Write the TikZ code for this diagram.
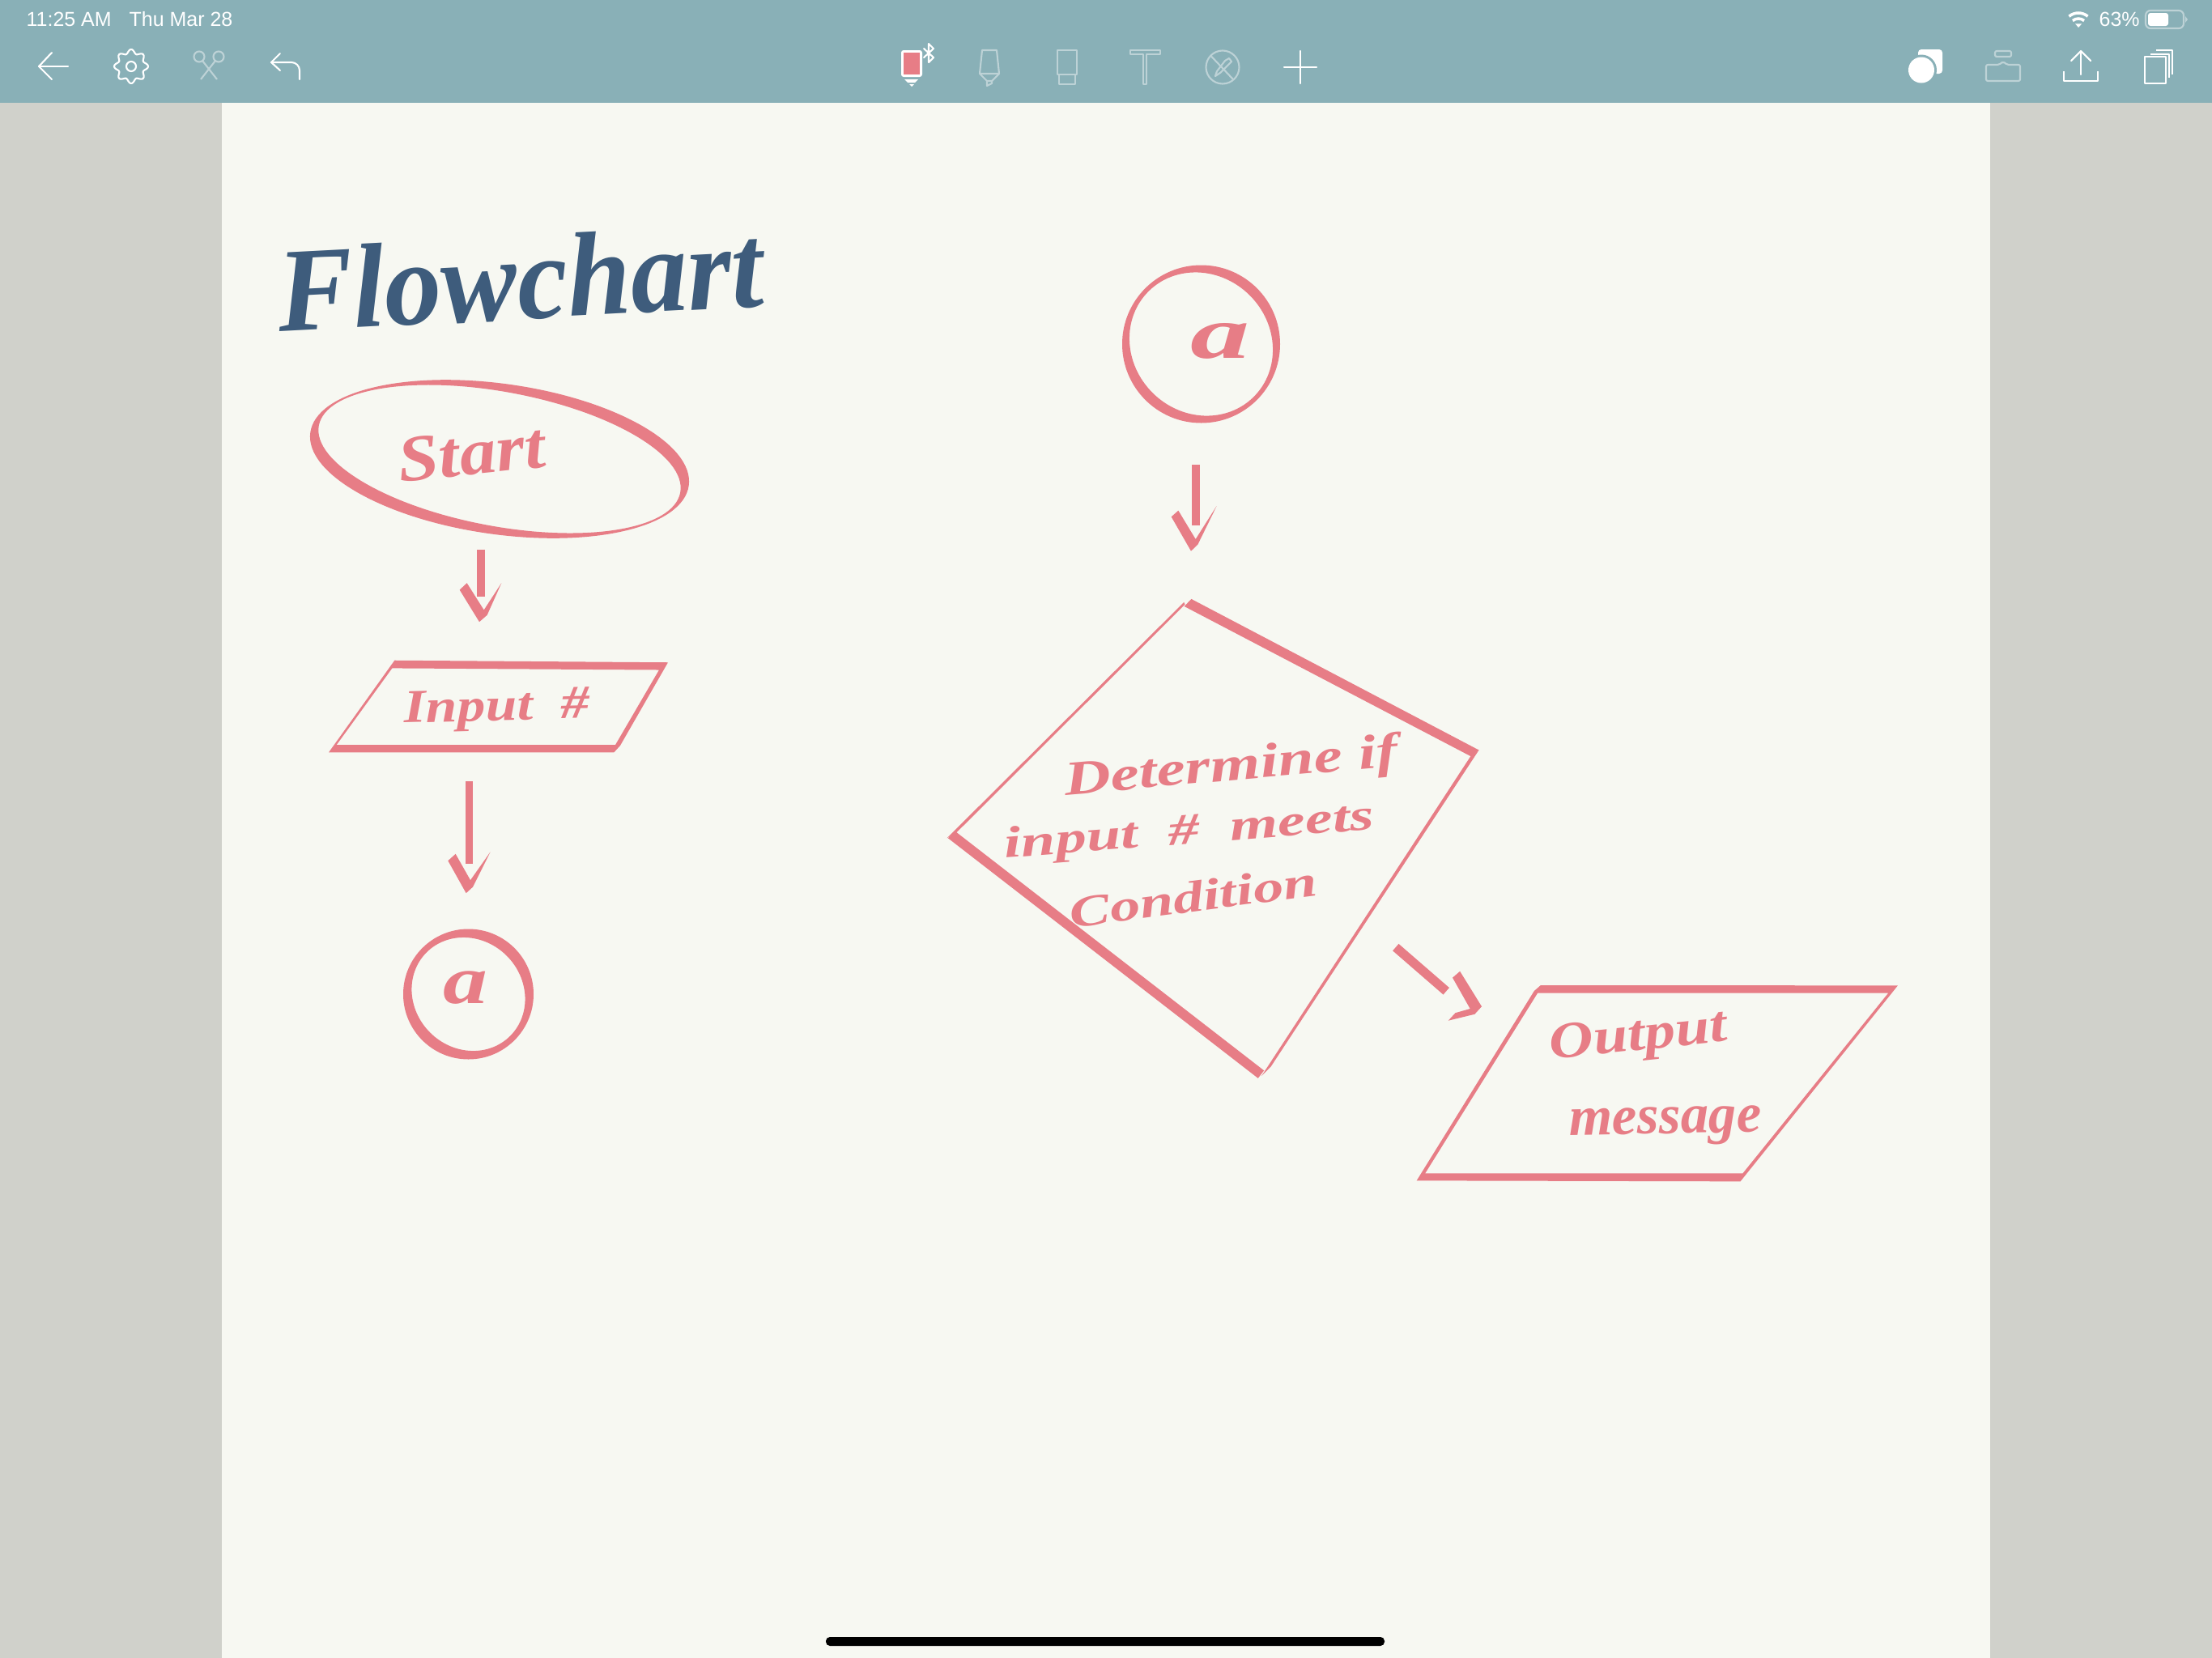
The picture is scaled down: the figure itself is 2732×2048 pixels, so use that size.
\documentclass[tikz,border=0pt]{standalone}
\usepackage{fontspec}
\setmainfont{Liberation Sans}
\newfontfamily\handfont{Liberation Serif}
\definecolor{barc}{HTML}{89B0B7}
\definecolor{sidec}{HTML}{D0D1CB}
\definecolor{pagec}{HTML}{F7F8F2}
\definecolor{pinkc}{HTML}{E77D86}
\definecolor{inkc}{HTML}{3E5C7C}
\definecolor{fadec}{HTML}{BDD2D6}
\newcommand{\hw}[1]{\handfont\bfseries\itshape\fontsize{#1}{#1}\selectfont}
\tikzset{
  statustext/.style={text=white,inner sep=0pt,anchor=base west,font=\fontsize{7.1}{8}\selectfont},
  ico/.style={draw=white,line width=0.6pt,line cap=round,line join=round},
  icof/.style={draw=fadec,line width=0.6pt,line join=round},
  label/.style={text=pinkc,inner sep=0pt,anchor=base},
  shaft/.style={draw=pinkc,line width=2.7pt},
  z5/.style={shift={(380,660)},xscale=0.33333,yscale=0.42088},
  z6/.style={shift={(1160,730)},xscale=0.43367,yscale=0.39541},
  z7/.style={shift={(1700,1140)},xscale=0.42088,yscale=0.33333},
  z8/.style={shift={(1360,310)},xscale=0.33333,yscale=0.33333},
}
\begin{document}
\begin{tikzpicture}[x=0.01cm,y=-0.01cm]
\useasboundingbox (0,0) rectangle (2732,2048);
% backgrounds
\fill[sidec] (0,0) rectangle (2732,2048);
\fill[pagec] (274,127) rectangle (2458,2048);
\fill[barc] (0,0) rectangle (2732,127);
\fill[black,rounded corners=0.05cm] (1020,2022) rectangle (1710,2033);
% status bar
\node[statustext] (clock) at (32,32) {11:25 AM};
\node[statustext] (date) at (159,32) {Thu Mar 28};
\node[statustext] (batt) at (2592,32) {63\%};
\coordinate (wifi) at (2567,34);
\draw[white,line width=1pt] (wifi) ++(-130:18) arc[start angle=-130,end angle=-50,radius=18];
\draw[white,line width=1pt] (wifi) ++(-130:11) arc[start angle=-130,end angle=-50,radius=11];
\fill[white] (wifi) -- ++(-130:6) -- ++(8,0) -- cycle;
\draw[fadec,line width=0.6pt,rounded corners=0.06cm] (2650,13) rectangle (2697,35);
\fill[white,rounded corners=0.03cm] (2653,16) rectangle (2678,32);
\fill[fadec] (2699,20) -- (2702,24) -- (2699,28) -- cycle;
% left tools
\draw[ico] (84,82) -- (48,82);
\draw[ico] (64,65) -- (48,82) -- (64,98);
\draw[ico] plot[smooth cycle,domain=0:356,samples=90,variable=\t] ({162+(18.5+2.5*cos(8*\t))*cos(\t)},{82+(18.5+2.5*cos(8*\t))*sin(\t)});
\draw[ico] (162,82) circle[radius=6];
\draw[icof] (246,70) circle[radius=6.5] (270,70) circle[radius=6.5];
\draw[icof] (250,75) -- (268,98) (266,75) -- (248,98);
\draw[ico] (346,66) -- (335,77) -- (346,87);
\draw[ico,rounded corners=0.1cm] (335,77) -- (370,77) -- (370,98);
% centre tools
\fill[white,rounded corners=0.03cm] (1113,62) rectangle (1139,95);
\fill[pinkc] (1116,65) rectangle (1136,92);
\fill[white] (1117,98) -- (1134,98) -- (1130,102) -- (1121,102) -- cycle;
\fill[white] (1123,104) -- (1129,104) -- (1126,107) -- cycle;
\draw[ico] (1141,60) -- (1153,71) -- (1147,77) -- (1147,54) -- (1153,60) -- (1141,71);
\draw[icof] (1213,62) -- (1231,62) -- (1234,91) -- (1210,91) -- cycle;
\draw[icof] (1210,91) -- (1219,100) -- (1225,100) -- (1234,91);
\draw[icof] (1219,100) -- (1219,106) -- (1225,103) -- (1225,100);
\draw[icof] (1306,62) rectangle (1330,92);
\draw[icof] (1308,92) -- (1308,104) -- (1328,104) -- (1328,92);
\draw[icof] (1396,62) -- (1433,62) -- (1433,67) -- (1416,67) -- (1416,104) -- (1412,104) -- (1412,67) -- (1396,67) -- cycle;
\draw[icof] (1510,83) circle[radius=20.5];
\draw[icof] (1496,69.5) -- (1523,98);
\draw[icof] (1513,75) -- (1518,72) -- (1521,76) -- (1507,90) -- (1501,94) -- (1503,88) -- cycle;
\draw[ico] (1586,83) -- (1626,83) (1606,63) -- (1606,103);
% right tools
\fill[white,rounded corners=0.04cm] (2369,61) rectangle (2399,91);
\fill[barc] (2373,86.5) circle[radius=19];
\fill[white] (2373,86.5) circle[radius=16];
\draw[icof,rounded corners=0.02cm] (2464,63) rectangle (2484,70);
\draw[icof,rounded corners=0.02cm] (2453,80) -- (2469,80) -- (2474,76) -- (2479,80) -- (2495,80) -- (2495,100) -- (2453,100) -- cycle;
\draw[ico,line cap=butt] (2549,88) -- (2549,100) -- (2591,100) -- (2591,88);
\draw[ico] (2570,92) -- (2570,63);
\draw[ico] (2558,75) -- (2570,63) -- (2582,75);
\draw[ico,line cap=butt] (2649,70) rectangle (2675,103);
\draw[ico,line cap=butt] (2656,67) -- (2679,67) -- (2679,96);
\draw[ico,line cap=butt] (2663,62) -- (2683,62) -- (2683,92);
% title
\node[inkc,inner sep=0pt,anchor=base,rotate=3,xscale=0.95] (title) at (645,394) {\hw{42}Flowchart};
% start ellipse
\coordinate (se) at (617,567);
\fill[pinkc,even odd rule] (se) circle[x radius=236,y radius=93,rotate=-8]
  (se) circle[x radius=227,y radius=83,rotate=-10.5];
\node[label,rotate=6,xscale=1.12] (start) at (585,586) {\hw{23}Start};
% arrow 1 and input box
\begin{scope}[z5]
\coordinate (a1s) at (642,45);
\coordinate (a1e) at (642,182);
\draw[shaft] (a1s) -- (a1e);
\fill[pinkc] (563,163) -- (590,143) -- (653,222) -- (718,143) -- (665,237) -- (636,257) -- cycle;
\fill[pinkc,even odd rule] (322,370) -- (1335,376) -- (1158,620) -- (1135,640) -- (78,640) -- cycle
  (313,393) -- (1302,398) -- (1140,618) -- (107,618) -- cycle;
\coordinate (a2s) at (598,725);
\coordinate (a2e) at (598,967);
\draw[shaft] (a2s) -- (a2e);
\fill[pinkc] (520,958) -- (548,938) -- (603,1015) -- (677,932) -- (612,1035) -- (587,1053) -- cycle;
\end{scope}
\node[label,rotate=1.5,xscale=1.2] (input) at (614,890) {\hw{16.5}Input~~\#};
% left connector circle
\coordinate (cl) at (578.5,1228);
\fill[pinkc,even odd rule] (cl) circle[radius=80.5] (cl) circle[x radius=73,y radius=67,rotate=-45];
\node[label,xscale=1.3] (al) at (575,1239) {\hw{24}a};
% right connector circle
\coordinate (cr) at (1483.5,425);
\fill[pinkc,even odd rule] (cr) circle[radius=97.5] (cr) circle[x radius=92,y radius=85,rotate=-45];
\node[label,xscale=1.6] (ar) at (1507,442) {\hw{26}a};
% arrow 3
\begin{scope}[z8]
\coordinate (a3s) at (351,793);
\coordinate (a3e) at (351,1016);
\draw[shaft] (a3s) -- (a3e);
\fill[pinkc] (260,985) -- (286,962) -- (350,1068) -- (428,945) -- (358,1088) -- (333,1112) -- cycle;
\end{scope}
% decision
\begin{scope}[z6]
\fill[pinkc] (718,25) -- (1537,497) -- (1515,517) -- (698,48) -- cycle;
\fill[pinkc] (25,772) -- (47,752) -- (925,1498) -- (908,1522) -- cycle;
\fill[pinkc] (22,772) -- (697,35) -- (700,42) -- (47,757) -- cycle;
\fill[pinkc] (1537,497) -- (1513,517) -- (918,1515) -- (945,1485) -- cycle;
\coordinate (a4s) at (1300,1113);
\coordinate (a4e) at (1444,1250);
\draw[shaft,line width=3.2pt] (a4s) -- (a4e);
\fill[pinkc] (1483,1188) -- (1545,1298) -- (1525,1322) -- (1450,1342) -- (1470,1318) -- (1512,1305) -- (1462,1208) -- cycle;
\end{scope}
\node[label,rotate=5,xscale=1.33] (d1) at (1522,964) {\hw{17}Determine if};
\node[label,rotate=4.5,xscale=1.4] (d2) at (1470,1042) {\hw{15.5}input~~\#~~meets};
\node[label,rotate=7.5,xscale=1.37] (d3) at (1476,1126) {\hw{15.5}Condition};
% output box
\begin{scope}[z7]
\fill[pinkc,even odd rule] (482,231) -- (1530,232) -- (1068,958) -- (118,955) -- (463,252) -- cycle
  (473,260) -- (1502,260) -- (1075,928) -- (143,928) -- cycle;
\end{scope}
\node[label,rotate=6,xscale=1.2] (o1) at (2025,1297) {\hw{18}Output};
\node[label,rotate=1,xscale=1] (o2) at (2057,1400) {\hw{19.6}message};
\end{tikzpicture}
\end{document}
